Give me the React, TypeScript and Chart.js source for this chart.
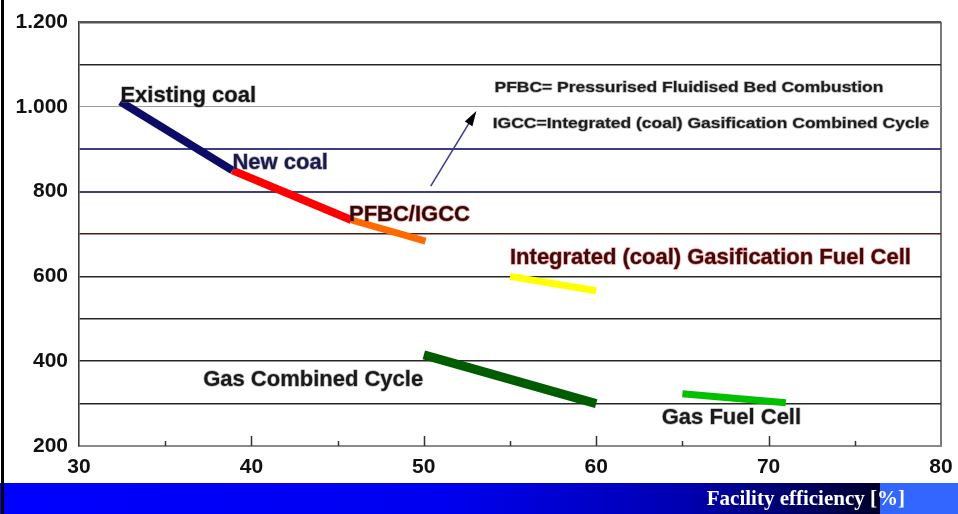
import React, { useEffect, useRef } from "react";
import { Chart, registerables } from "chart.js";
Chart.register(...registerables);

// ---- Data ----
const existingCoalX = [32.4, 38.9];
const existingCoalY = [1012, 850];
const newCoalX = [38.9, 45.8];
const newCoalY = [850, 733];
const pfbcIgccX = [45.8, 50.1];
const pfbcIgccY = [733, 683];
const igfcX = [55, 60];
const igfcY = [600, 566];
const gasCombinedX = [50, 60];
const gasCombinedY = [415, 300];
const gasFuelCellX = [65, 71];
const gasFuelCellY = [323, 302];

const xMin = 30;
const xMax = 80;
const yMin = 200;
const yMax = 1200;
const xTickStep = 10;
const yGridStep = 100;
const yLabelStep = 200;
const xTitle = "Facility efficiency [%]";

// annotation labels
const labelTexts = [
  "Existing coal",
  "New coal",
  "PFBC/IGCC",
  "Integrated (coal) Gasification Fuel Cell",
  "Gas Combined Cycle",
  "Gas Fuel Cell",
];
const labelX = [32.4, 38.9, 45.66, 55.0, 37.2, 63.8];
const labelY = [1025, 867, 745, 643, 356, 266];
const noteTexts = [
  "PFBC= Pressurised Fluidised Bed Combustion",
  "IGCC=Integrated (coal) Gasification Combined Cycle",
];
const noteX = [54.1, 54.0];
const noteY = [1044, 959];
const arrowFrom = [50.4, 813];
const arrowTo = [53.05, 990];

const SANS = "'Liberation Sans', Arial, sans-serif";
const SERIF = "'Liberation Serif', 'Times New Roman', serif";

const pts = (xs: number[], ys: number[]) => xs.map((x, i) => ({ x, y: ys[i] }));

const labelStyles = [
  { fill: "#151515", stroke: "rgba(120,120,120,0.5)" },
  { fill: "#1a1a45", stroke: "rgba(90,90,150,0.5)" },
  { fill: "#2a0c0c", stroke: "rgba(230,40,40,0.55)" },
  { fill: "#3a0c0c", stroke: "rgba(230,40,40,0.55)" },
  { fill: "#1a1a1a", stroke: "rgba(120,120,120,0.5)" },
  { fill: "#1a1a1a", stroke: "rgba(120,120,120,0.5)" },
];

function gridColor(v: number) {
  if (v === 1200) return "#555555";
  if (v === 1000) return "#9a9a9a";
  if (v === 900 || v === 800) return "#3c3c8c";
  if (v === 700) return "#4a1c1c";
  if (v === 200) return "rgba(0,0,0,0)";
  return "#262626";
}
function gridWidth(v: number) {
  if (v === 1200) return 2.5;
  if (v === 1000) return 1;
  if (v === 900 || v === 800) return 2;
  return 1.6;
}

const decorPlugin = {
  id: "decor",
  beforeDraw(chart: any) {
    const ctx = chart.ctx;
    ctx.save();
    ctx.fillStyle = "#ffffff";
    ctx.fillRect(0, 0, chart.width, chart.height);
    ctx.restore();
  },
  afterDraw(chart: any) {
    const ctx = chart.ctx;
    const xs = chart.scales.x;
    const ys = chart.scales.y;
    const area = chart.chartArea;
    ctx.save();

    // inner tick marks on bottom axis
    ctx.strokeStyle = "#333";
    ctx.lineWidth = 1.5;
    for (let v = xMin + 5; v < xMax; v += 5) {
      const px = Math.round(xs.getPixelForValue(v)) + 0.5;
      const len = v % 10 === 0 ? 10 : 5;
      ctx.beginPath();
      ctx.moveTo(px, area.bottom);
      ctx.lineTo(px, area.bottom - len);
      ctx.stroke();
    }

    // arrow
    const ax0 = xs.getPixelForValue(arrowFrom[0]);
    const ay0 = ys.getPixelForValue(arrowFrom[1]);
    const ax1 = xs.getPixelForValue(arrowTo[0]);
    const ay1 = ys.getPixelForValue(arrowTo[1]);
    const ang = Math.atan2(ay1 - ay0, ax1 - ax0);
    ctx.strokeStyle = "#3a3a8a";
    ctx.lineWidth = 1.5;
    ctx.beginPath();
    ctx.moveTo(ax0, ay0);
    ctx.lineTo(ax1 - 10 * Math.cos(ang), ay1 - 10 * Math.sin(ang));
    ctx.stroke();
    ctx.fillStyle = "#000";
    ctx.beginPath();
    ctx.moveTo(ax1, ay1);
    const hl = 15, hw = 4.5;
    const bx = ax1 - hl * Math.cos(ang), by = ay1 - hl * Math.sin(ang);
    ctx.lineTo(bx + hw * Math.sin(ang), by - hw * Math.cos(ang));
    ctx.lineTo(bx - hw * Math.sin(ang), by + hw * Math.cos(ang));
    ctx.closePath();
    ctx.fill();

    // labels
    const drawText = (t: string, px: number, py: number, font: string, fill: string, stroke: string | null, sx: number) => {
      ctx.save();
      ctx.translate(px, py);
      ctx.scale(sx, 1);
      ctx.font = font;
      ctx.textAlign = "left";
      ctx.textBaseline = "middle";
      if (stroke) {
        ctx.strokeStyle = stroke;
        ctx.lineWidth = 1.4;
        ctx.lineJoin = "round";
        ctx.strokeText(t, 0, 0);
      }
      ctx.fillStyle = fill;
      ctx.fillText(t, 0, 0);
      ctx.restore();
    };
    labelTexts.forEach((t, i) => {
      drawText(t, xs.getPixelForValue(labelX[i]), ys.getPixelForValue(labelY[i]), `bold 22px ${SANS}`, labelStyles[i].fill, labelStyles[i].stroke, 1);
    });
    noteTexts.forEach((t, i) => {
      drawText(t, xs.getPixelForValue(noteX[i]), ys.getPixelForValue(noteY[i]), `bold 15px ${SANS}`, "#1c1c1c", "rgba(120,120,120,0.5)", 1.165);
    });

    // bottom title bar
    const barTop = 483;
    const split = 880;
    const g = ctx.createLinearGradient(0, 0, split, 0);
    g.addColorStop(0, "#0000ff");
    g.addColorStop(0.5, "#0000f0");
    g.addColorStop(0.78, "#0000b0");
    g.addColorStop(0.93, "#00005a");
    g.addColorStop(1, "#000028");
    ctx.fillStyle = g;
    ctx.fillRect(0, barTop, split, chart.height - barTop);
    ctx.fillStyle = "#3366ff";
    ctx.fillRect(split, barTop, chart.width - split, chart.height - barTop);
    ctx.fillStyle = "#ffffff";
    ctx.font = `bold 21px ${SERIF}`;
    ctx.textAlign = "right";
    ctx.textBaseline = "middle";
    ctx.fillText(xTitle, 905, 500);

    // left black edge
    ctx.fillStyle = "#000";
    ctx.fillRect(1, 0, 3, chart.height);
    ctx.restore();
  },
};

export default function App() {
  const ref = useRef<HTMLCanvasElement | null>(null);
  useEffect(() => {
    document.body.style.margin = "0";
    const canvas = ref.current!;
    const line = (xs: number[], ys: number[], color: string, width: number) => ({
      data: pts(xs, ys),
      borderColor: color,
      backgroundColor: color,
      borderWidth: width,
      borderCapStyle: "butt" as const,
      pointRadius: 0,
      fill: false,
      tension: 0,
    });
    const chart = new Chart(canvas, {
      type: "line",
      data: {
        datasets: [
          line(existingCoalX, existingCoalY, "#0c0c66", 8),
          line(newCoalX, newCoalY, "#ff0000", 8),
          line(pfbcIgccX, pfbcIgccY, "#ff6a00", 7),
          line(igfcX, igfcY, "#ffff00", 7),
          line(gasCombinedX, gasCombinedY, "#005c00", 9),
          line(gasFuelCellX, gasFuelCellY, "#00c000", 7),
        ],
      },
      options: {
        animation: false,
        responsive: false,
        layout: { padding: { top: 22, right: 17, left: 0, bottom: 0 } },
        plugins: { legend: { display: false }, tooltip: { enabled: false } },
        scales: {
          x: {
            type: "linear",
            min: xMin,
            max: xMax,
            afterFit: (s: any) => { s.height = 68; s.paddingLeft = 0; s.paddingRight = 0; },
            ticks: {
              stepSize: xTickStep,
              color: "#111",
              padding: 9,
              font: { family: SANS, size: 21, weight: "bold" },
            },
            grid: {
              drawTicks: false,
              color: (c: any) => (c.tick && c.tick.value === xMax ? "#7a7a7a" : "rgba(0,0,0,0)"),
              lineWidth: 2,
            },
            border: { display: true, color: "#8a8a8a", width: 2 },
          },
          y: {
            type: "linear",
            min: yMin,
            max: yMax,
            afterFit: (s: any) => { s.width = 79; s.paddingTop = 0; s.paddingBottom = 0; },
            ticks: {
              stepSize: yGridStep,
              autoSkip: false,
              color: "#111",
              padding: 11,
              font: { family: SANS, size: 21, weight: "bold" },
              callback: (v: any) => {
                const n = Number(v);
                if (n % yLabelStep !== 0) return "";
                return n >= 1000 ? n.toLocaleString("de-DE") : String(n);
              },
            },
            grid: {
              drawTicks: false,
              color: (c: any) => gridColor(c.tick ? c.tick.value : 0),
              lineWidth: (c: any) => gridWidth(c.tick ? c.tick.value : 0),
            },
            border: { display: true, color: "#3a3a3a", width: 1.6 },
          },
        },
      },
      plugins: [decorPlugin],
    });
    return () => chart.destroy();
  }, []);
  return (
    <div style={{ width: 958, height: 514 }}>
      <canvas ref={ref} width={958} height={514} style={{ display: "block", width: 958, height: 514 }} />
    </div>
  );
}
